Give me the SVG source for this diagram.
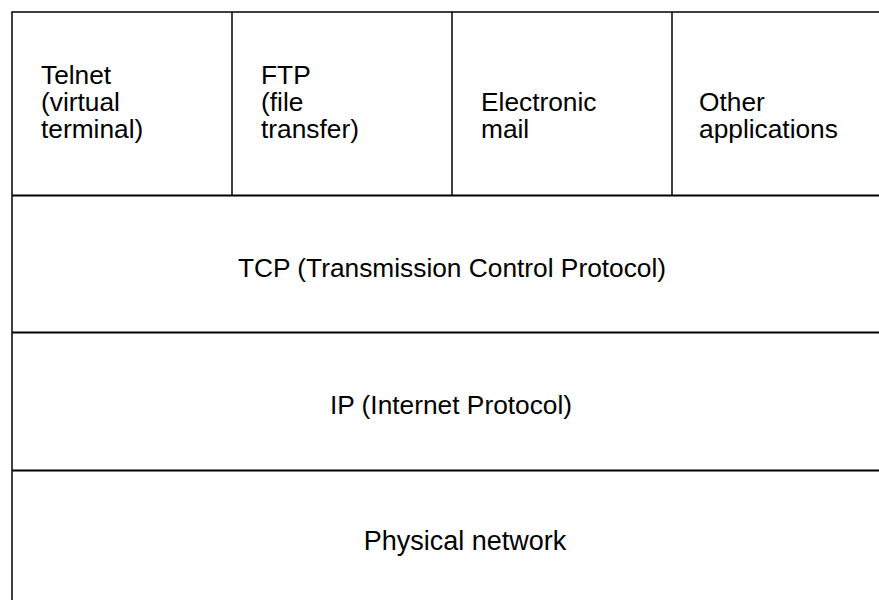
<svg xmlns="http://www.w3.org/2000/svg" width="879" height="600" viewBox="0 0 879 600">
<style>
.cell{fill:#fff;stroke:#000;stroke-width:1.5}
.hl{stroke:#000;stroke-width:2.2;fill:none}
.vl{stroke:#000;stroke-width:1.5;fill:none}
text{font-family:"Liberation Sans",Arial,Helvetica,sans-serif;font-size:26.3px;fill:#000}
.c{text-anchor:middle}
</style>
<rect width="879" height="600" fill="#fff"/>
<g id="frame">
<rect x="12" y="12" width="880" height="596" class="cell"/>
</g>
<g id="connectors">
<line x1="12" y1="195.5" x2="892" y2="195.5" class="hl"/>
<line x1="12" y1="332.5" x2="892" y2="332.5" class="hl"/>
<line x1="12" y1="470.5" x2="892" y2="470.5" class="hl"/>
<line x1="232" y1="12" x2="232" y2="195" class="vl"/>
<line x1="452" y1="12" x2="452" y2="195" class="vl"/>
<line x1="672" y1="12" x2="672" y2="195" class="vl"/>
</g>
<g id="telnet">
<text x="41" y="84">Telnet</text>
<text x="41" y="111">(virtual</text>
<text x="41" y="138">terminal)</text>
</g>
<g id="ftp">
<text x="261" y="84">FTP</text>
<text x="261" y="111">(file</text>
<text x="261" y="138">transfer)</text>
</g>
<g id="email">
<text x="481" y="111">Electronic</text>
<text x="481" y="138">mail</text>
</g>
<g id="other">
<text x="699" y="111">Other</text>
<text x="699" y="138">applications</text>
</g>
<g id="tcp">
<text class="c" x="452" y="277">TCP (Transmission Control Protocol)</text>
</g>
<g id="ip">
<text class="c" x="451" y="414">IP (Internet Protocol)</text>
</g>
<g id="physical">
<text class="c" x="465" y="550" style="font-size:27px">Physical network</text>
</g>
</svg>
